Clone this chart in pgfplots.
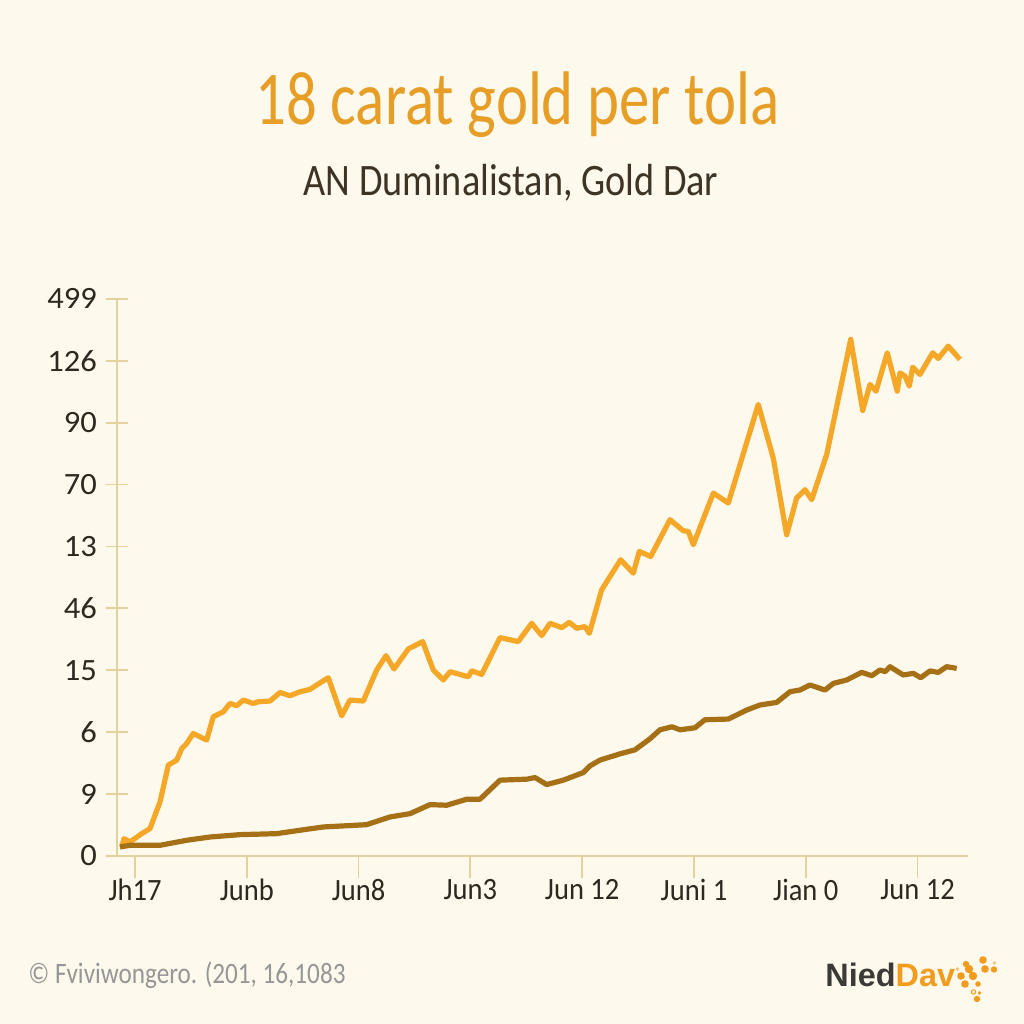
\documentclass[border=0pt]{standalone}
\usepackage{pgfplots}
\pgfplotsset{compat=1.18}
\usepackage{fontspec}
\setmainfont{Carlito}
\newfontfamily\titlefont[FakeStretch=0.8]{Carlito}
\newfontfamily\subfont[FakeStretch=0.85]{Carlito}
\newfontfamily\tickfont[FakeStretch=0.92]{Carlito}
\newfontfamily\ytickfont[FakeStretch=1.05]{Carlito}
\newfontfamily\logofont{Liberation Sans}
\definecolor{bg}{RGB}{253,249,236}
\definecolor{titlec}{RGB}{230,158,38}
\definecolor{subc}{RGB}{62,52,38}
\definecolor{tickc}{RGB}{45,40,32}
\definecolor{axisc}{RGB}{228,210,158}
\definecolor{brightc}{RGB}{245,168,40}
\definecolor{darkc}{RGB}{166,112,22}
\definecolor{footc}{RGB}{150,150,150}
\definecolor{logogray}{RGB}{60,58,55}
\definecolor{logoorange}{RGB}{242,156,30}
\begin{document}
\begin{tikzpicture}[x=0.5pt,y=0.5pt]
\fill[bg] (0,0) rectangle (1024,1024);
\useasboundingbox (0,0) rectangle (1024,1024);
\node[anchor=base, text=titlec, inner sep=0pt, font=\titlefont\fontsize{38}{40}\selectfont] at (517.5,899) {18 carat gold per tola};
\node[anchor=base, text=subc, inner sep=0pt, font=\subfont\fontsize{22.5}{25}\selectfont] at (511,828) {AN Duminalistan, Gold Dar};
\begin{axis}[
  at={(58.5pt,84pt)}, anchor=south west,
  scale only axis, width=425.5pt, height=279.2pt,
  xmin=-0.161, xmax=7.451, ymin=0, ymax=9.02,
  axis lines*=left,
  axis line style={draw=axisc, line width=1.2pt},
  xtick={0,1,2,3,4,5,6,7},
  xticklabels={Jh17,Junb,Jun8,Jun3,Jun 12,Juni 1,Jian 0,Jun 12},
  ytick={0,1,2,3,4,5,6,7,8,9},
  yticklabels={0,9,6,15,46,13,70,90,126,499},
  xtick align=outside, ytick align=center,
  major tick length=11pt,
  tick style={draw=axisc, line width=0.9pt},
  xticklabel style={text=tickc, font=\tickfont\fontsize{15.5}{17}\selectfont, yshift=3pt},
  yticklabel style={text=tickc, font=\ytickfont\fontsize{15.5}{17}\selectfont, xshift=-1pt},
  clip=false,
  line join=round,
]
\addplot[brightc, line width=2.6pt] coordinates {
(-0.119,0.146) (-0.098,0.280) (-0.045,0.227) (0.060,0.361) (0.134,0.442)
(0.224,0.874) (0.298,1.468) (0.373,1.549) (0.418,1.736) (0.462,1.817)
(0.521,1.979) (0.641,1.872) (0.700,2.249) (0.790,2.330) (0.850,2.464)
(0.910,2.427) (0.969,2.519) (1.058,2.464) (1.103,2.492) (1.208,2.503)
(1.297,2.642) (1.386,2.589) (1.476,2.654) (1.565,2.691) (1.625,2.762)
(1.729,2.880) (1.849,2.265) (1.923,2.519) (2.042,2.503) (2.162,3.005)
(2.245,3.236) (2.317,3.021) (2.445,3.345) (2.573,3.463) (2.668,3.005)
(2.758,2.843) (2.818,2.977) (2.981,2.896) (3.012,2.989) (3.101,2.934)
(3.265,3.528) (3.428,3.463) (3.548,3.759) (3.638,3.560) (3.712,3.759)
(3.817,3.689) (3.885,3.775) (3.951,3.678) (4.025,3.706) (4.064,3.597)
(4.174,4.299) (4.249,4.515) (4.344,4.785) (4.457,4.568) (4.511,4.919)
(4.613,4.838) (4.785,5.432) (4.904,5.254) (4.949,5.243) (4.994,5.028)
(5.173,5.862) (5.307,5.701) (5.575,7.293) (5.709,6.429) (5.829,5.189)
(5.918,5.782) (5.993,5.917) (6.053,5.756) (6.187,6.484) (6.402,8.345)
(6.509,7.196) (6.574,7.617) (6.628,7.508) (6.729,8.128) (6.818,7.508)
(6.843,7.804) (6.887,7.751) (6.926,7.589) (6.956,7.896) (7.021,7.778)
(7.135,8.128) (7.185,8.037) (7.274,8.236) (7.379,8.021)
};
\addplot[darkc, line width=2.6pt] coordinates {
(-0.134,0.146) (-0.045,0.173) (0.224,0.173) (0.462,0.254) (0.671,0.307)
(0.939,0.345) (1.267,0.361) (1.476,0.416) (1.684,0.469) (2.072,0.506)
(2.281,0.631) (2.460,0.684) (2.639,0.830) (2.788,0.820) (2.967,0.917)
(3.086,0.917) (3.265,1.225) (3.504,1.241) (3.578,1.267) (3.682,1.154)
(3.831,1.225) (4.010,1.348) (4.070,1.456) (4.159,1.549) (4.338,1.650)
(4.472,1.715) (4.606,1.893) (4.696,2.039) (4.803,2.087) (4.875,2.039)
(5.009,2.071) (5.098,2.201) (5.307,2.212) (5.472,2.358) (5.590,2.439)
(5.740,2.481) (5.859,2.654) (5.948,2.681) (6.038,2.762) (6.172,2.681)
(6.246,2.788) (6.366,2.843) (6.500,2.966) (6.590,2.913) (6.664,3.005)
(6.709,2.977) (6.753,3.058) (6.872,2.924) (6.962,2.950) (7.028,2.880)
(7.111,2.989) (7.185,2.966) (7.260,3.058) (7.350,3.031)
};
\end{axis}
\node[anchor=base west, text=footc, inner sep=0pt, font=\subfont\fontsize{14.8}{16}\selectfont] at (28,40) {© Fviviwongero. (201, 16,1083};
\node[anchor=base west, inner sep=0pt, font=\logofont\bfseries\fontsize{16.2}{18}\selectfont] at (825,37) {\textcolor{logogray}{Nied}\textcolor{logoorange}{Dav}};
\fill[logoorange] (966,60) circle (3.2) (983,64) circle (3.8) (969,55) circle (4.2)
  (985,55) circle (3.8) (994,54.5) circle (3.2) (961,48) circle (3.8)
  (973,48) circle (4.2) (965,40) circle (3.8) (978,40) circle (2.8)
  (979.5,31) circle (1.8) (977,25) circle (3.2);
\fill[logoorange!60] (994.5,61) circle (1.8) (957.5,55) circle (1.8);
\draw[logoorange, line width=0.5pt] (973.5,32) circle (2.2);
\end{tikzpicture}
\end{document}
